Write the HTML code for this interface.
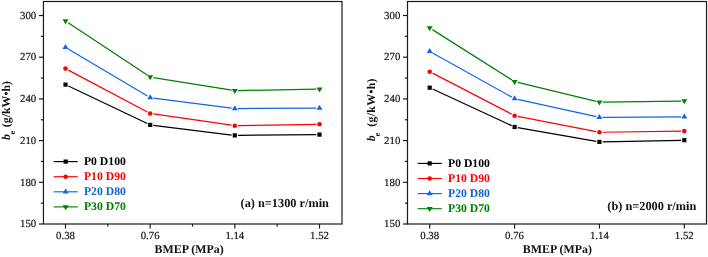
<!DOCTYPE html><html><head><meta charset="utf-8"><style>html,body{margin:0;padding:0;background:#fff}svg{display:block;will-change:transform;text-rendering:geometricPrecision}.t{font-family:"Liberation Serif",serif;font-size:10.8px;fill:#111;stroke:#111;stroke-width:0.18px}.b{font-family:"Liberation Serif",serif;font-weight:bold}</style></head><body>
<svg width="708" height="257" viewBox="0 0 708 257">
<rect width="708" height="257" fill="#fff"/>
<rect x="43.45" y="1.5" width="298.55" height="222.50" fill="none" stroke="#1a1a1a" stroke-width="1.2"/>
<line x1="38.95" y1="224.00" x2="43.45" y2="224.00" stroke="#1a1a1a" stroke-width="1.2"/>
<text class="t" x="36.25" y="227.20" text-anchor="end">150</text>
<line x1="40.85" y1="203.15" x2="43.45" y2="203.15" stroke="#1a1a1a" stroke-width="1.2"/>
<line x1="38.95" y1="182.30" x2="43.45" y2="182.30" stroke="#1a1a1a" stroke-width="1.2"/>
<text class="t" x="36.25" y="185.50" text-anchor="end">180</text>
<line x1="40.85" y1="161.45" x2="43.45" y2="161.45" stroke="#1a1a1a" stroke-width="1.2"/>
<line x1="38.95" y1="140.60" x2="43.45" y2="140.60" stroke="#1a1a1a" stroke-width="1.2"/>
<text class="t" x="36.25" y="143.80" text-anchor="end">210</text>
<line x1="40.85" y1="119.75" x2="43.45" y2="119.75" stroke="#1a1a1a" stroke-width="1.2"/>
<line x1="38.95" y1="98.90" x2="43.45" y2="98.90" stroke="#1a1a1a" stroke-width="1.2"/>
<text class="t" x="36.25" y="102.10" text-anchor="end">240</text>
<line x1="40.85" y1="78.05" x2="43.45" y2="78.05" stroke="#1a1a1a" stroke-width="1.2"/>
<line x1="38.95" y1="57.20" x2="43.45" y2="57.20" stroke="#1a1a1a" stroke-width="1.2"/>
<text class="t" x="36.25" y="60.40" text-anchor="end">270</text>
<line x1="40.85" y1="36.35" x2="43.45" y2="36.35" stroke="#1a1a1a" stroke-width="1.2"/>
<line x1="38.95" y1="15.50" x2="43.45" y2="15.50" stroke="#1a1a1a" stroke-width="1.2"/>
<text class="t" x="36.25" y="18.70" text-anchor="end">300</text>
<line x1="65.50" y1="224.0" x2="65.50" y2="228.60" stroke="#1a1a1a" stroke-width="1.2"/>
<text class="t" x="65.50" y="238.6" text-anchor="middle">0.38</text>
<line x1="107.83" y1="224.0" x2="107.83" y2="226.60" stroke="#1a1a1a" stroke-width="1.2"/>
<line x1="150.17" y1="224.0" x2="150.17" y2="228.60" stroke="#1a1a1a" stroke-width="1.2"/>
<text class="t" x="150.17" y="238.6" text-anchor="middle">0.76</text>
<line x1="192.50" y1="224.0" x2="192.50" y2="226.60" stroke="#1a1a1a" stroke-width="1.2"/>
<line x1="234.83" y1="224.0" x2="234.83" y2="228.60" stroke="#1a1a1a" stroke-width="1.2"/>
<text class="t" x="234.83" y="238.6" text-anchor="middle">1.14</text>
<line x1="277.17" y1="224.0" x2="277.17" y2="226.60" stroke="#1a1a1a" stroke-width="1.2"/>
<line x1="319.50" y1="224.0" x2="319.50" y2="228.60" stroke="#1a1a1a" stroke-width="1.2"/>
<text class="t" x="319.50" y="238.6" text-anchor="middle">1.52</text>
<path d="M68.39 85.97L147.31 123.53M153.38 125.29L231.62 135.01M238.00 135.37L316.30 134.63" fill="none" stroke="#000000" stroke-width="1.25"/>
<rect x="63.40" y="82.50" width="4.2" height="4.2" fill="#000000"/>
<rect x="148.10" y="122.80" width="4.2" height="4.2" fill="#000000"/>
<rect x="232.70" y="133.30" width="4.2" height="4.2" fill="#000000"/>
<rect x="317.40" y="132.50" width="4.2" height="4.2" fill="#000000"/>
<path d="M68.33 70.10L147.37 112.00M153.37 113.96L231.63 125.24M238.00 125.65L316.30 124.35" fill="none" stroke="#FF0000" stroke-width="1.25"/>
<circle cx="65.50" cy="68.60" r="2.3" fill="#FF0000"/>
<circle cx="150.20" cy="113.50" r="2.3" fill="#FF0000"/>
<circle cx="234.80" cy="125.70" r="2.3" fill="#FF0000"/>
<circle cx="319.50" cy="124.30" r="2.3" fill="#FF0000"/>
<path d="M68.25 48.93L147.45 95.97M153.37 98.01L231.63 108.19M238.00 108.58L316.30 108.02" fill="none" stroke="#1064EE" stroke-width="1.25"/>
<path d="M65.50 43.97L68.50 48.97L62.50 48.97Z" fill="#1064EE"/>
<path d="M150.20 94.27L153.20 99.27L147.20 99.27Z" fill="#1064EE"/>
<path d="M234.80 105.27L237.80 110.27L231.80 110.27Z" fill="#1064EE"/>
<path d="M319.50 104.67L322.50 109.67L316.50 109.67Z" fill="#1064EE"/>
<path d="M68.17 22.67L147.53 75.23M153.36 77.51L231.64 90.09M238.00 90.54L316.30 89.16" fill="none" stroke="#008000" stroke-width="1.25"/>
<path d="M62.50 19.23L68.50 19.23L65.50 24.23Z" fill="#008000"/>
<path d="M147.20 75.33L153.20 75.33L150.20 80.33Z" fill="#008000"/>
<path d="M231.80 88.93L237.80 88.93L234.80 93.93Z" fill="#008000"/>
<path d="M316.50 87.43L322.50 87.43L319.50 92.43Z" fill="#008000"/>
<line x1="53.65" y1="161.60" x2="77.75" y2="161.60" stroke="#000000" stroke-width="1.15"/>
<rect x="63.55" y="159.50" width="4.2" height="4.2" fill="#000000"/>
<text class="b" x="83.95" y="165.00" font-size="11.7" fill="#000000">P0 D100</text>
<line x1="53.65" y1="176.70" x2="77.75" y2="176.70" stroke="#FF0000" stroke-width="1.15"/>
<circle cx="65.65" cy="176.70" r="2.3" fill="#FF0000"/>
<text class="b" x="83.95" y="180.10" font-size="11.7" fill="#FF0000">P10 D90</text>
<line x1="53.65" y1="191.80" x2="77.75" y2="191.80" stroke="#1064EE" stroke-width="1.15"/>
<path d="M65.65 188.47L68.65 193.47L62.65 193.47Z" fill="#1064EE"/>
<text class="b" x="83.95" y="195.20" font-size="11.7" fill="#1262CF">P20 D80</text>
<line x1="53.65" y1="206.90" x2="77.75" y2="206.90" stroke="#008000" stroke-width="1.15"/>
<path d="M62.65 205.23L68.65 205.23L65.65 210.23Z" fill="#008000"/>
<text class="b" x="83.95" y="210.30" font-size="11.7" fill="#008000">P30 D70</text>
<text class="b" x="240.60" y="207.40" font-size="12.3" fill="#111">(a) n=1300 r/min</text>
<text class="b" x="189.10" y="253.2" font-size="11.9" text-anchor="middle" fill="#111">BMEP (MPa)</text>
<text class="b" transform="translate(10.25,139.90) rotate(-90)" x="0" y="0" font-size="11.8" fill="#111" letter-spacing="0"><tspan font-style="italic">b</tspan><tspan font-size="8.4" dx="-0.6" dy="5.0">e</tspan><tspan dx="0.8" dy="-5.0"> (g/kW•h)</tspan></text>
<rect x="407.5" y="1.5" width="299.00" height="222.50" fill="none" stroke="#1a1a1a" stroke-width="1.2"/>
<line x1="403.00" y1="224.00" x2="407.5" y2="224.00" stroke="#1a1a1a" stroke-width="1.2"/>
<text class="t" x="400.30" y="227.20" text-anchor="end">150</text>
<line x1="404.90" y1="203.15" x2="407.5" y2="203.15" stroke="#1a1a1a" stroke-width="1.2"/>
<line x1="403.00" y1="182.30" x2="407.5" y2="182.30" stroke="#1a1a1a" stroke-width="1.2"/>
<text class="t" x="400.30" y="185.50" text-anchor="end">180</text>
<line x1="404.90" y1="161.45" x2="407.5" y2="161.45" stroke="#1a1a1a" stroke-width="1.2"/>
<line x1="403.00" y1="140.60" x2="407.5" y2="140.60" stroke="#1a1a1a" stroke-width="1.2"/>
<text class="t" x="400.30" y="143.80" text-anchor="end">210</text>
<line x1="404.90" y1="119.75" x2="407.5" y2="119.75" stroke="#1a1a1a" stroke-width="1.2"/>
<line x1="403.00" y1="98.90" x2="407.5" y2="98.90" stroke="#1a1a1a" stroke-width="1.2"/>
<text class="t" x="400.30" y="102.10" text-anchor="end">240</text>
<line x1="404.90" y1="78.05" x2="407.5" y2="78.05" stroke="#1a1a1a" stroke-width="1.2"/>
<line x1="403.00" y1="57.20" x2="407.5" y2="57.20" stroke="#1a1a1a" stroke-width="1.2"/>
<text class="t" x="400.30" y="60.40" text-anchor="end">270</text>
<line x1="404.90" y1="36.35" x2="407.5" y2="36.35" stroke="#1a1a1a" stroke-width="1.2"/>
<line x1="403.00" y1="15.50" x2="407.5" y2="15.50" stroke="#1a1a1a" stroke-width="1.2"/>
<text class="t" x="400.30" y="18.70" text-anchor="end">300</text>
<line x1="429.70" y1="224.0" x2="429.70" y2="228.60" stroke="#1a1a1a" stroke-width="1.2"/>
<text class="t" x="429.70" y="238.6" text-anchor="middle">0.38</text>
<line x1="514.57" y1="224.0" x2="514.57" y2="228.60" stroke="#1a1a1a" stroke-width="1.2"/>
<text class="t" x="514.57" y="238.6" text-anchor="middle">0.76</text>
<line x1="599.43" y1="224.0" x2="599.43" y2="228.60" stroke="#1a1a1a" stroke-width="1.2"/>
<text class="t" x="599.43" y="238.6" text-anchor="middle">1.14</text>
<line x1="684.30" y1="224.0" x2="684.30" y2="228.60" stroke="#1a1a1a" stroke-width="1.2"/>
<text class="t" x="684.30" y="238.6" text-anchor="middle">1.52</text>
<path d="M432.60 89.04L511.70 125.66M517.75 127.55L596.25 141.35M602.60 141.84L681.10 140.26" fill="none" stroke="#000000" stroke-width="1.25"/>
<rect x="427.60" y="85.60" width="4.2" height="4.2" fill="#000000"/>
<rect x="512.50" y="124.90" width="4.2" height="4.2" fill="#000000"/>
<rect x="597.30" y="139.80" width="4.2" height="4.2" fill="#000000"/>
<rect x="682.20" y="138.10" width="4.2" height="4.2" fill="#000000"/>
<path d="M432.54 73.17L511.76 114.23M517.74 116.31L596.26 131.69M602.60 132.25L681.10 131.15" fill="none" stroke="#FF0000" stroke-width="1.25"/>
<circle cx="429.70" cy="71.70" r="2.3" fill="#FF0000"/>
<circle cx="514.60" cy="115.70" r="2.3" fill="#FF0000"/>
<circle cx="599.40" cy="132.30" r="2.3" fill="#FF0000"/>
<circle cx="684.30" cy="131.10" r="2.3" fill="#FF0000"/>
<path d="M432.50 52.96L511.80 97.14M517.72 99.39L596.28 116.71M602.60 117.38L681.10 116.82" fill="none" stroke="#1064EE" stroke-width="1.25"/>
<path d="M429.70 48.07L432.70 53.07L426.70 53.07Z" fill="#1064EE"/>
<path d="M514.60 95.37L517.60 100.37L511.60 100.37Z" fill="#1064EE"/>
<path d="M599.40 114.07L602.40 119.07L596.40 119.07Z" fill="#1064EE"/>
<path d="M684.30 113.47L687.30 118.47L681.30 118.47Z" fill="#1064EE"/>
<path d="M432.40 29.61L511.90 79.89M517.71 82.36L596.29 101.44M602.60 102.15L681.10 101.05" fill="none" stroke="#008000" stroke-width="1.25"/>
<path d="M426.70 26.23L432.70 26.23L429.70 31.23Z" fill="#008000"/>
<path d="M511.60 79.93L517.60 79.93L514.60 84.93Z" fill="#008000"/>
<path d="M596.40 100.53L602.40 100.53L599.40 105.53Z" fill="#008000"/>
<path d="M681.30 99.33L687.30 99.33L684.30 104.33Z" fill="#008000"/>
<line x1="417.70" y1="163.40" x2="441.80" y2="163.40" stroke="#000000" stroke-width="1.15"/>
<rect x="427.60" y="161.30" width="4.2" height="4.2" fill="#000000"/>
<text class="b" x="448.00" y="166.80" font-size="11.7" fill="#000000">P0 D100</text>
<line x1="417.70" y1="178.50" x2="441.80" y2="178.50" stroke="#FF0000" stroke-width="1.15"/>
<circle cx="429.70" cy="178.50" r="2.3" fill="#FF0000"/>
<text class="b" x="448.00" y="181.90" font-size="11.7" fill="#FF0000">P10 D90</text>
<line x1="417.70" y1="193.60" x2="441.80" y2="193.60" stroke="#1064EE" stroke-width="1.15"/>
<path d="M429.70 190.27L432.70 195.27L426.70 195.27Z" fill="#1064EE"/>
<text class="b" x="448.00" y="197.00" font-size="11.7" fill="#1262CF">P20 D80</text>
<line x1="417.70" y1="208.70" x2="441.80" y2="208.70" stroke="#008000" stroke-width="1.15"/>
<path d="M426.70 207.03L432.70 207.03L429.70 212.03Z" fill="#008000"/>
<text class="b" x="448.00" y="212.10" font-size="11.7" fill="#008000">P30 D70</text>
<text class="b" x="607.30" y="209.50" font-size="12.3" fill="#111">(b) n=2000 r/min</text>
<text class="b" x="557.35" y="253.2" font-size="11.9" text-anchor="middle" fill="#111">BMEP (MPa)</text>
<text class="b" transform="translate(374.70,141.20) rotate(-90)" x="0" y="0" font-size="11.8" fill="#111" letter-spacing="0.3"><tspan font-style="italic">b</tspan><tspan font-size="8.4" dx="-1.6" dy="5.0">e</tspan><tspan dx="2.6" dy="-5.0"> (g/kW•h)</tspan></text>
</svg></body></html>
